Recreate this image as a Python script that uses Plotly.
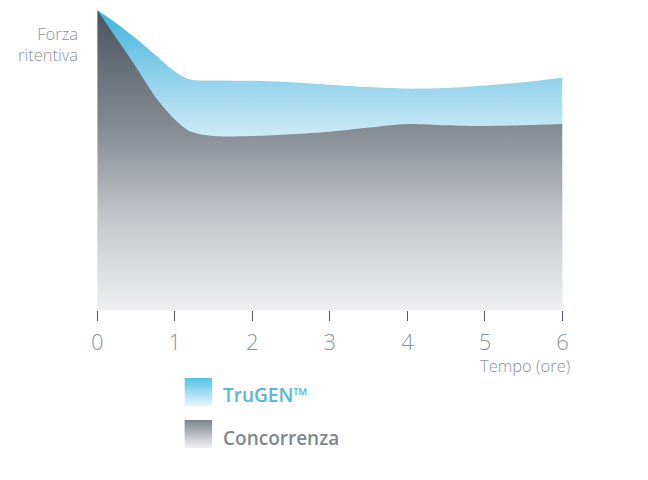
import plotly.graph_objects as go

# Data
hours_trugen = [0, 0.25, 0.5, 0.75, 1.0, 1.2, 1.5, 2, 2.5, 3, 3.5, 4, 4.5, 5, 5.5, 6]
trugen = [100, 95.5, 90.5, 85, 79.5, 76.8, 76.5, 76.4, 75.9, 75.1, 74.3, 73.8, 74.0, 74.8, 75.9, 77.4]

hours_conc = [0, 0.25, 0.5, 0.75, 1.0, 1.2, 1.5, 2, 2.5, 3, 3.5, 4, 4.5, 5, 5.5, 6]
concorrenza = [100, 90.5, 81, 71, 63.5, 59.5, 58.0, 58.0, 58.6, 59.4, 60.8, 62.0, 61.6, 61.3, 61.6, 62.0]

x_ticks = [0, 1, 2, 3, 4, 5, 6]

W, H = 648, 480

fig = go.Figure()

fig.add_trace(go.Scatter(
    x=hours_trugen, y=trugen, mode="lines", line=dict(width=0, shape="spline", smoothing=0.8),
    fill="tozeroy",
    fillgradient=dict(type="vertical", start=56, stop=100,
                      colorscale=[[0, "#d4ecf7"], [0.5, "#8ed1eb"], [1, "#3cb4de"]]),
    hoverinfo="skip", showlegend=False, name="TruGEN™"))

fig.add_trace(go.Scatter(
    x=hours_conc, y=concorrenza, mode="lines", line=dict(width=0, shape="spline", smoothing=0.8),
    fill="tozeroy",
    fillgradient=dict(type="vertical", start=0, stop=100,
                      colorscale=[[0, "#efeff1"], [0.3, "#c4c7cb"], [0.6, "#868c94"], [1, "#4a545d"]]),
    hoverinfo="skip", showlegend=False, name="Concorrenza"))

# Legend swatches (decorative, on an overlay axis in pixel units)
sw_x = [182, 210, 210, 182, 182]
fig.add_trace(go.Scatter(
    x=sw_x, y=[378, 378, 406, 406, 378], xaxis="x2", yaxis="y2", mode="lines",
    line=dict(width=0), fill="toself",
    fillgradient=dict(type="vertical", start=406, stop=378,
                      colorscale=[[0, "#e8f5fb"], [1, "#55c2e6"]]),
    hoverinfo="skip", showlegend=False))
fig.add_trace(go.Scatter(
    x=sw_x, y=[420, 420, 448, 448, 420], xaxis="x2", yaxis="y2", mode="lines",
    line=dict(width=0), fill="toself",
    fillgradient=dict(type="vertical", start=448, stop=420,
                      colorscale=[[0, "#f2f2f4"], [1, "#7a838d"]]),
    hoverinfo="skip", showlegend=False))

font_family = "'Open Sans', Lato, sans-serif"
label_color = "#8a9299"

fig.update_layout(
    width=W, height=H,
    margin=dict(l=0, r=0, t=0, b=0),
    paper_bgcolor="white", plot_bgcolor="rgba(0,0,0,0)",
    font=dict(family=font_family, color=label_color),
    xaxis=dict(domain=[93 / W, 567 / W], range=[0, 6], tickvals=x_ticks,
               ticktext=[str(v) for v in x_ticks],
               showgrid=False, zeroline=False, showline=False,
               ticks="outside", ticklen=10, tickwidth=1, tickcolor="#555a60",
               ticklabelstandoff=3,
               tickfont=dict(size=22, color="#8a939b", family=font_family, weight=300),
               anchor="y", fixedrange=True),
    yaxis=dict(domain=[(H - 310) / H, (H - 10) / H], range=[0, 100],
               showgrid=False, zeroline=False, showline=False,
               showticklabels=False, ticks="", anchor="x", fixedrange=True),
    xaxis2=dict(domain=[0, 1], range=[0, W], anchor="y2",
                visible=False, fixedrange=True),
    yaxis2=dict(domain=[0, 1], range=[H, 0], anchor="x2",
                visible=False, fixedrange=True),
    showlegend=False,
)

annotations = [
    dict(text="Forza<br>ritentiva", xref="x2", yref="y2", x=75, y=20,
         xanchor="right", yanchor="top", align="right", showarrow=False,
         font=dict(size=16.5, color=label_color, family=font_family, weight=300)),
    dict(text="Tempo (ore)", xref="x2", yref="y2", x=577, y=365,
         xanchor="right", yanchor="middle", showarrow=False,
         font=dict(size=16.5, color=label_color, family=font_family, weight=300)),
    dict(text="TruGEN™", xref="x2", yref="y2", x=219, y=395,
         xanchor="left", yanchor="middle", showarrow=False,
         font=dict(size=19, color="#5ab8d5", family=font_family, weight=600)),
    dict(text="Concorrenza", xref="x2", yref="y2", x=219, y=438,
         xanchor="left", yanchor="middle", showarrow=False,
         font=dict(size=19, color="#7d8790", family=font_family, weight=600)),
]
fig.update_layout(annotations=annotations)

fig.write_html("out.html", config={"displayModeBar": False},
               post_script="document.body.style.margin='0';")
